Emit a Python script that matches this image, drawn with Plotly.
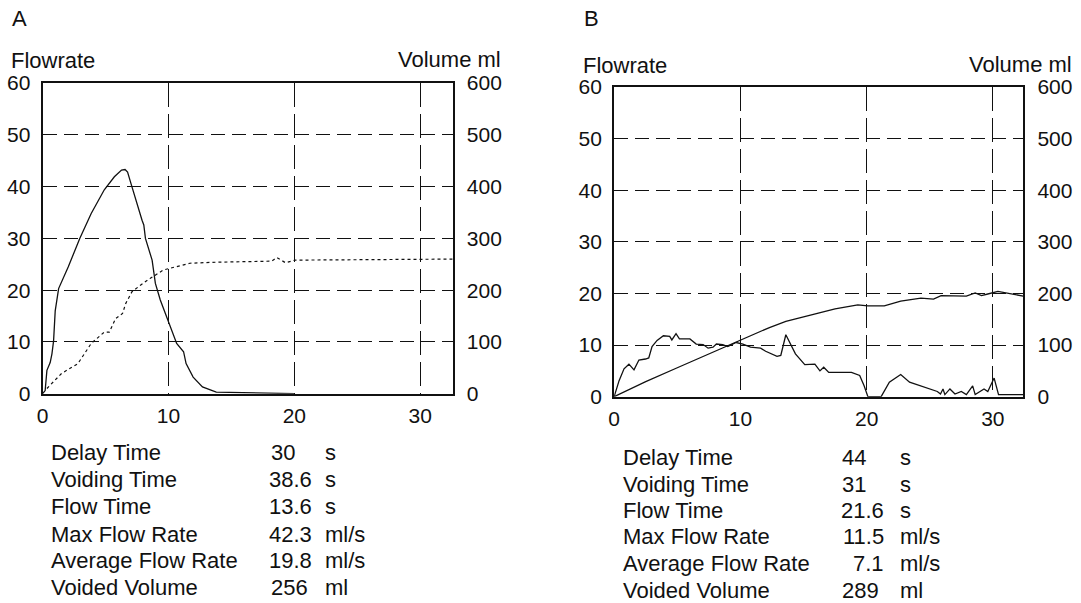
import plotly.graph_objects as go

W, H = 1081, 603

# ---------------- Panel A data ----------------
tA_flow = [0, 0.2, 0.34, 0.6, 0.74, 0.87, 1.0, 1.27, 2.04, 2.95, 3.86, 4.9, 5.7, 6.27, 6.55, 6.75, 7.07, 7.4, 7.9, 8.04,
           8.17, 8.7, 8.96, 9.35, 9.87, 10.13, 10.65, 11.2, 11.4, 11.96, 12.7, 13.8, 17.7, 20.0]
flowA = [0, 0.6, 4.5, 6.0, 7.7, 10.2, 16.0, 20.3, 24.5, 30.0, 34.8, 39.4, 41.9, 43.2, 43.3, 42.8, 40.2, 37.4, 33.5, 32.6,
         30.0, 25.8, 21.3, 18.1, 14.8, 12.9, 9.7, 8.1, 5.8, 3.2, 1.3, 0.3, 0.1, 0]

tA_vol = [0.34, 1.5, 2.8, 3.86, 4.9, 5.3, 5.8, 6.35, 6.6, 7.1, 7.8, 8.56, 9.6, 10.65, 11.7, 13.8, 18.2, 18.6, 19.3,
          20.05, 32.6]
volA = [10, 39, 58, 97, 119, 119, 145, 155, 174, 197, 210, 223, 239, 245, 252, 254, 256, 263, 253, 258, 260]

# ---------------- Panel B data ----------------
tB_flow = [0, 0.39, 0.78, 1.17, 1.57, 1.96, 2.48, 2.74, 3.0, 3.4, 3.9, 4.4, 4.57, 4.9, 5.17, 6.0, 6.5, 7.05, 7.44, 7.83,
           8.1, 8.6, 9.0, 9.66, 10.2, 10.8, 11.6, 12.0, 12.9, 13.2, 13.6, 13.96, 14.36, 15.1, 15.9, 16.3, 16.6, 17.0,
           18.8, 19.45, 19.8, 20.1, 21.15, 21.8, 22.7, 23.4, 24.0, 24.5, 25.6, 25.85, 26.05, 26.2, 26.6, 27.0, 27.5,
           27.9, 28.4, 28.6, 29.3, 29.6, 30.1, 30.45, 32.4]
flowB = [0, 3.1, 5.4, 6.3, 5.2, 7.1, 7.3, 7.5, 9.7, 10.9, 11.8, 11.7, 11.0, 12.2, 11.2, 11.2, 10.2, 10.1, 9.4, 9.6,
         10.2, 10.1, 9.7, 10.5, 10.2, 9.6, 9.4, 8.8, 7.8, 8.0, 12.0, 10.2, 8.3, 6.2, 6.3, 5.0, 5.7, 4.7,
         4.7, 4.1, 2.1, 0, 0, 2.8, 4.3, 2.8, 2.3, 1.8, 1.0, 0.5, 1.5, 0.4, 1.5, 0.5, 1.0,
         0.4, 2.1, 0.4, 1.5, 1.0, 3.6, 0.4, 0.4]

tB_vol = [0, 2.5, 5.0, 7.5, 10.0, 12.3, 13.6, 14.9, 17.5, 19.3, 20.1, 21.4, 22.7, 24.3, 25.3, 25.9, 27.9, 28.6, 29.1,
          29.6, 30.4, 32.4]
volB = [0, 29, 56, 83, 110, 134, 146, 154, 170, 178, 176, 176, 185, 191, 189, 196, 195, 201, 196, 199, 204, 195]

flow_ticks = [0, 10, 20, 30, 40, 50, 60]
vol_ticks = [0, 100, 200, 300, 400, 500, 600]
time_ticks = [0, 10, 20, 30]

stat_labels = ["Delay Time", "Voiding Time", "Flow Time", "Max Flow Rate", "Average Flow Rate", "Voided Volume"]
statsA_values = ["30", "38.6", "13.6", "42.3", "19.8", "256"]
statsB_values = ["44", "31", "21.6", "11.5", "7.1", "289"]
stat_units = ["s", "s", "s", "ml/s", "ml/s", "ml"]

FONT = "Liberation Sans, Arial, Helvetica, sans-serif"
INK = "#111111"

fig = go.Figure()
line = dict(color=INK, width=1.3)
fig.add_trace(go.Scatter(x=tA_flow, y=flowA, xaxis="x", yaxis="y", mode="lines", line=line))
fig.add_trace(go.Scatter(x=tA_vol, y=volA, xaxis="x", yaxis="y3", mode="lines",
                         line=dict(color=INK, width=1.2, dash="3px,3px")))
fig.add_trace(go.Scatter(x=tB_flow, y=flowB, xaxis="x2", yaxis="y2", mode="lines", line=line))
fig.add_trace(go.Scatter(x=tB_vol, y=volB, xaxis="x2", yaxis="y4", mode="lines", line=line))

# pixel -> paper mapping (compensating the observed rendering offset)
X0, X1 = 4.0, float(W)
Y0, Y1 = 12.0, 591.0

def px_x(p):
    return (p - X0) / (X1 - X0)

def px_y(p):
    return 1 - (p - Y0) / (Y1 - Y0)

domA_x = [px_x(40.7), px_x(451.7)]
domA_y = [px_y(393), px_y(83)]
domB_x = [px_x(613.3), px_x(1023.3)]
domB_y = [px_y(396), px_y(87)]

tickfont = dict(family=FONT, size=21, color=INK)

def xax(domain, anchor, rng):
    return dict(domain=domain, anchor=anchor, range=rng, tickvals=time_ticks, ticks="",
                showgrid=True, gridcolor=INK, gridwidth=1, griddash="24px,7px",
                showline=True, linecolor=INK, linewidth=2, mirror=True, zeroline=False,
                tickfont=tickfont, ticklabelstandoff=2, fixedrange=True)

def yax(domain, anchor):
    return dict(domain=domain, anchor=anchor, range=[0, 60], tickvals=flow_ticks, ticks="",
                showgrid=True, gridcolor=INK, gridwidth=1, griddash="14px,7px",
                showline=True, linecolor=INK, linewidth=2, mirror=True, zeroline=False,
                tickfont=tickfont, ticklabelstandoff=6, fixedrange=True)

def vax(overlay, anchor):
    return dict(overlaying=overlay, anchor=anchor, side="right", range=[0, 600], tickvals=vol_ticks,
                ticks="", showgrid=False, showline=False, zeroline=False,
                tickfont=tickfont, ticklabelstandoff=13, fixedrange=True)

annotations = []

def text(x, y, s, anchor="left", size=22):
    annotations.append(dict(x=px_x(x), y=px_y(y), xref="paper", yref="paper", text=s, showarrow=False,
                            xanchor=anchor, yanchor="middle", borderpad=0,
                            font=dict(family=FONT, size=size, color=INK)))

text(9, 18, "A")
text(8, 60, "Flowrate")
text(501, 59, "Volume ml", "right")
text(582, 18, "B")
text(581, 65, "Flowrate")
text(1073, 64, "Volume ml", "right")

def table(x_lab, x_val, x_unit, rows_y, values):
    for lab, val, unit, y in zip(stat_labels, values, stat_units, rows_y):
        text(x_lab, y, lab)
        if "." in val:
            text(x_val + 44, y, val, "right")
        else:
            text(x_val, y, val)
        text(x_unit, y, unit)

table(48, 268, 323, [451.7, 478.3, 506, 533.3, 560, 586.7], statsA_values)
table(621.5, 840.7, 898.3, [456.7, 483.3, 510, 536, 562.7, 589.3], statsB_values)

fig.update_layout(
    width=W, height=H, autosize=False, margin=dict(l=0, r=0, t=0, b=0, pad=0),
    paper_bgcolor="white", plot_bgcolor="white", showlegend=False,
    xaxis=xax(domA_x, "y", [0, 32.6]),
    yaxis=yax(domA_y, "x"),
    xaxis2=xax(domB_x, "y2", [0, 32.42]),
    yaxis2=yax(domB_y, "x2"),
    yaxis3=vax("y", "x"),
    yaxis4=vax("y2", "x2"),
    annotations=annotations,
)

fig.write_html(
    "out.html",
    config={"responsive": False, "displayModeBar": False},
    post_script="document.body.style.margin='0';document.body.style.overflow='hidden';",
)
